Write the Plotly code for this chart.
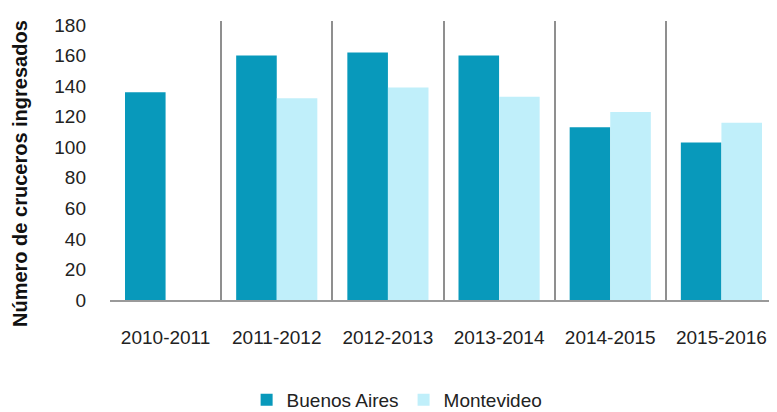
import plotly.graph_objects as go

categories = ["2010-2011", "2011-2012", "2012-2013", "2013-2014", "2014-2015", "2015-2016"]
buenos_aires = [136, 160, 162, 160, 113, 103]
montevideo = [None, 132, 139, 133, 123, 116]
y_ticks = [0, 20, 40, 60, 80, 100, 120, 140, 160, 180]

FONT = "Liberation Sans, Arial, sans-serif"

fig = go.Figure()
fig.add_trace(go.Bar(name="Buenos Aires", x=categories, y=buenos_aires,
                     marker=dict(color="#0899BB", line=dict(width=0))))
fig.add_trace(go.Bar(name="Montevideo", x=categories, y=montevideo,
                     marker=dict(color="#C0EFFA", line=dict(width=0))))

fig.update_layout(
    width=769, height=404,
    margin=dict(l=102, r=0, t=13, b=112, autoexpand=False),
    paper_bgcolor="white", plot_bgcolor="white",
    barmode="group", bargap=0.27, bargroupgap=0,
    font=dict(family=FONT, size=19, color="#222222"),
    showlegend=True,
    legend=dict(orientation="h", xref="container", yref="container",
                x=0.506, xanchor="center", y=0.03, yanchor="middle",
                font=dict(size=19, color="#222222"), itemwidth=30,
                tracegroupgap=0),
    xaxis=dict(type="category", tickson="boundaries", showgrid=True,
               gridcolor="#8f8f8f", gridwidth=1.5,
               showline=True, linecolor="#9a9a9a", linewidth=1.5,
               ticks="", ticklabelstandoff=19, tickangle=0, automargin=False,
               tickfont=dict(size=19, color="#222222")),
    yaxis=dict(range=[0, 182.6], tickvals=y_ticks, showgrid=False,
               zeroline=False, showline=False, ticks="", automargin=False,
               ticklabelstandoff=23,
               tickfont=dict(size=19, color="#222222")),
    annotations=[dict(text="<b>Número de cruceros ingresados</b>",
                      xref="paper", yref="paper", x=-0.135, y=0.455,
                      xanchor="center", yanchor="middle", textangle=-90,
                      showarrow=False,
                      font=dict(family=FONT, size=20, color="#111111"))],
)

fig.write_html("out.html")
